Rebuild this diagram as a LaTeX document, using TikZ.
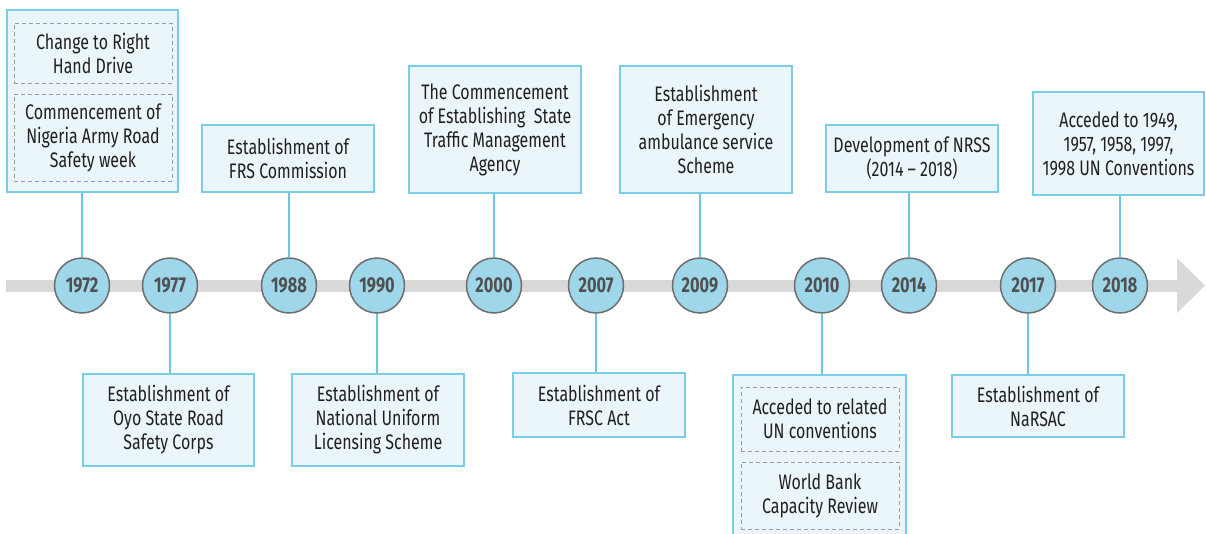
\documentclass[tikz,border=0pt]{standalone}
\usepackage{fontspec}
\setmainfont{Fira Sans}[FakeStretch=0.76]
\definecolor{boxline}{HTML}{7ACDE6}
\definecolor{boxfill}{HTML}{EAF6FA}
\definecolor{linkc}{HTML}{6CC6E2}
\definecolor{circfill}{HTML}{9ED6EA}
\definecolor{circline}{HTML}{6E6E6E}
\definecolor{yeartext}{HTML}{505050}
\definecolor{bar}{HTML}{D9D9D9}
\definecolor{dash}{HTML}{9A9A9A}
\definecolor{txt}{HTML}{231F20}
\tikzset{
  evbox/.style={draw=boxline, fill=boxfill, line width=1.3pt, inner sep=0pt, align=center,
    font=\fontsize{21}{24}\selectfont, text=txt},
  subbox/.style={draw=dash, line width=0.9pt, dash pattern=on 4pt off 3pt, inner sep=0pt, align=center,
    font=\fontsize{21}{24}\selectfont, text=txt},
  yearc/.style={circle, draw=circline, fill=circfill, line width=1.5pt, minimum size=55pt, inner sep=0pt,
    font=\fontsize{21.5}{22}\selectfont\bfseries, text=yeartext},
  link/.style={draw=linkc, line width=1.5pt}
}
\begin{document}
\begin{tikzpicture}[x=1pt,y=-1pt]
\useasboundingbox (0,0) rectangle (1206,533);
\clip (0,0) rectangle (1206,533);
% timeline bar
\fill[bar] (6,279.5) rectangle (1177,292);
\fill[bar] (1177,258) -- (1205,285.5) -- (1177,313) -- cycle;
% year circles
\node[yearc] (c1972) at (82,285.5) {1972};
\node[yearc] (c1977) at (170,285.5) {1977};
\node[yearc] (c1988) at (289,285.5) {1988};
\node[yearc] (c1990) at (377,285.5) {1990};
\node[yearc] (c2000) at (494,285.5) {2000};
\node[yearc] (c2007) at (596,285.5) {2007};
\node[yearc] (c2009) at (700,285.5) {2009};
\node[yearc] (c2010) at (822,285.5) {2010};
\node[yearc] (c2014) at (909,285.5) {2014};
\node[yearc] (c2017) at (1028,285.5) {2017};
\node[yearc] (c2018) at (1120,285.5) {2018};
% top boxes
\node[evbox, minimum width=171pt, minimum height=182pt] (b1972) at (92.5,101) {};
\node[subbox, minimum width=158pt, minimum height=60pt] (s1972a) at (93,53) {Change to Right\\Hand Drive};
\node[subbox, minimum width=158pt, minimum height=87pt] (s1972b) at (93,137.5) {Commencement of\\Nigeria Army Road\\Safety week};
\node[evbox, minimum width=172pt, minimum height=67pt] (b1988) at (288,158.5) {Establishment of\\FRS Commission};
\node[evbox, minimum width=172pt, minimum height=127pt] (b2000) at (495,129.5) {The Commencement\\of Establishing\ \ State\\Traffic Management\\Agency};
\node[evbox, minimum width=172pt, minimum height=127pt] (b2009) at (706,129.5) {Establishment\\of Emergency\\ambulance service\\Scheme};
\node[evbox, minimum width=172pt, minimum height=67pt] (b2014) at (912,158.5) {Development of NRSS\\(2014 -- 2018)};
\node[evbox, minimum width=171pt, minimum height=103pt] (b2018) at (1118.5,143.5) {Acceded to 1949,\\1957, 1958, 1997,\\1998 UN Conventions};
% bottom boxes
\node[evbox, minimum width=171pt, minimum height=92pt] (b1977) at (168.5,420) {Establishment of\\Oyo State Road\\Safety Corps};
\node[evbox, minimum width=172pt, minimum height=92pt] (b1990) at (378,420) {Establishment of\\National Uniform\\Licensing Scheme};
\node[evbox, minimum width=172pt, minimum height=64pt] (b2007) at (599,405) {Establishment of\\FRSC Act};
\node[evbox, minimum width=173pt, minimum height=170pt] (b2010) at (819.5,460) {};
\node[subbox, minimum width=158pt, minimum height=64pt] (s2010a) at (820,419) {Acceded to related\\UN conventions};
\node[subbox, minimum width=158pt, minimum height=67pt] (s2010b) at (820,495.5) {World Bank\\Capacity Review};
\node[evbox, minimum width=172pt, minimum height=62pt] (b2017) at (1038,406) {Establishment of\\NaRSAC};
% connectors
\foreach \y in {1972,1988,2000,2009,2014,2018}{
  \draw[link] (c\y.north) -- (c\y.north |- b\y.south);
}
\foreach \y in {1977,1990,2007,2010,2017}{
  \draw[link] (c\y.south) -- (c\y.south |- b\y.north);
}
\end{tikzpicture}
\end{document}
